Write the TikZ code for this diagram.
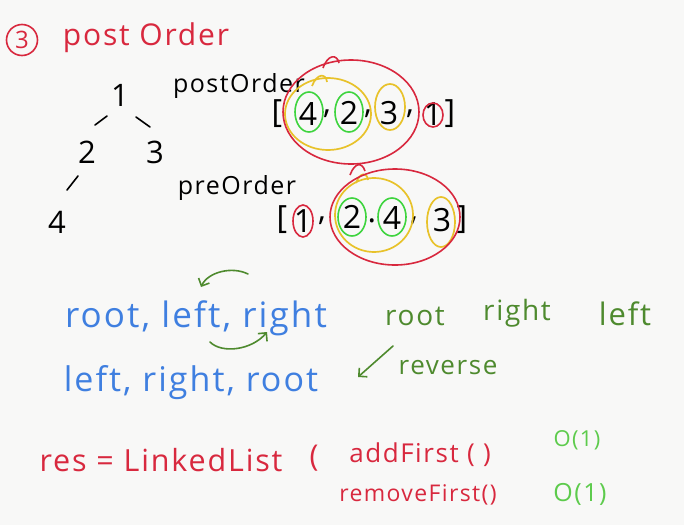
\documentclass[tikz,border=0pt]{standalone}
\usepackage{fontspec}
\setmainfont{Open Sans}[LetterSpace=6]
\usetikzlibrary{arrows.meta}
\definecolor{hred}{HTML}{D8283E}
\definecolor{hblue}{HTML}{3F7FE0}
\definecolor{hgreen}{HTML}{4E8A2E}
\definecolor{cgreen}{HTML}{3ED43E}
\definecolor{cyellow}{HTML}{E8C22A}
\definecolor{lgreen}{HTML}{5DCB4C}
\definecolor{bg}{HTML}{F8F8F7}
\begin{document}
\begin{tikzpicture}[x=1pt,y=-1pt,
  txt/.style={inner sep=0pt,anchor=center},
  fs/.style={font=\fontsize{#1}{#1}\selectfont},
  redtxt/.style={txt,text=hred},
  bluetxt/.style={txt,text=hblue,fs=35},
  greentxt/.style={txt,text=hgreen,fs=28},
  blacktxt/.style={txt,text=black},
  digit/.style={txt,text=black,fs=32},
  treedig/.style={txt,text=black,fs=31},
  edge/.style={draw=black,line width=1.6pt,line cap=round},
  gcirc/.style={draw=cgreen,line width=1.6pt},
  ycirc/.style={draw=cyellow,line width=1.7pt},
  rcirc/.style={draw=hred,line width=1.6pt},
  garrow/.style={draw=hgreen,line width=1.6pt,line cap=round,-{Straight Barb[length=6pt,width=12pt,line width=1.6pt]}}
]
\useasboundingbox[fill=bg] (0,0) rectangle (684,525);

% title
\node[txt,draw=hred,line width=1.6pt,circle,minimum size=31pt,text=hred,fs=24] (num) at (22,40) {3};
\node[redtxt,fs=30] (title) at (146,38) {post Order};

% tree
\node[treedig] (t1) at (120,95) {1};
\node[treedig] (t2) at (87,152) {2};
\node[treedig] (t3) at (155,152) {3};
\node[treedig] (t4) at (57,222) {4};
\coordinate (e1a) at (95,125); \coordinate (e1b) at (107,116);
\coordinate (e2a) at (136,117); \coordinate (e2b) at (150,127);
\coordinate (e3a) at (67,190); \coordinate (e3b) at (78,176);
\draw[edge] (e1a) -- (e1b);
\draw[edge] (e2a) -- (e2b);
\draw[edge] (e3a) -- (e3b);

% postOrder
\node[blacktxt,fs=25] (postlab) at (239,86) {postOrder};
\node[digit] (pb1) at (277,114) {[};
\node[digit] (p4) at (308,114) {4};
\node[digit] (pc1) at (327,114) {,};
\node[digit] (p2) at (349,113) {2};
\node[digit] (pc2) at (368,114) {,};
\node[digit] (p3) at (389,113) {3};
\node[digit] (pc3) at (410,114) {,};
\node[digit] (p1) at (433,114) {1};
\node[digit] (pb2) at (450,114) {]};
\draw[gcirc] (309,112) ellipse [x radius=14,y radius=20];
\draw[gcirc] (349,112) ellipse [x radius=14,y radius=20];
\draw[ycirc] (390,107) ellipse [x radius=15,y radius=23];
\draw[rcirc] (433,115) ellipse [x radius=10,y radius=12];
\draw[ycirc] (328,114) ellipse [x radius=43,y radius=36];
\draw[ycirc] (312,86) .. controls (317,73) and (326,73) .. (327,82);
\draw[rcirc] (351,112) ellipse [x radius=68,y radius=52];
\draw[rcirc] (323,68) .. controls (328,54) and (337,54) .. (339,63);

% preOrder
\node[blacktxt,fs=25] (prelab) at (237,188) {preOrder};
\node[digit] (qb1) at (282,220) {[};
\node[digit] (q1) at (303,221) {1};
\node[digit] (qc1) at (322,221) {,};
\node[digit] (q2) at (352,217) {2};
\node[digit] (qc2) at (372,221) {.};
\node[digit] (q4) at (392,218) {4};
\node[digit] (qc3) at (414,221) {,};
\node[digit] (q3) at (442,220) {3};
\node[digit] (qb2) at (462,220) {]};
\draw[rcirc] (303,221) ellipse [x radius=10,y radius=16];
\draw[gcirc] (352,217) ellipse [x radius=14,y radius=19];
\draw[gcirc] (392,217) ellipse [x radius=14,y radius=19];
\draw[ycirc] (441,222) ellipse [x radius=14,y radius=25];
\draw[ycirc] (374,215) ellipse [x radius=39,y radius=37];
\draw[ycirc] (356,183) .. controls (360,172) and (367,172) .. (368,180);
\draw[rcirc] (395,217) ellipse [x radius=65,y radius=48];
\draw[rcirc] (350,175) .. controls (355,162) and (362,162) .. (365,171);

% root left right
\node[bluetxt] (rlr) at (196,318) {root, left, right};
\coordinate (a1s) at (248,274); \coordinate (a1e) at (201,287);
\draw[garrow] (a1s) .. controls (232,266) and (208,272) .. (a1e);
\coordinate (a2s) at (210,342); \coordinate (a2e) at (267,332);
\draw[garrow] (a2s) .. controls (222,354) and (252,350) .. (a2e);
\node[greentxt] (groot) at (415,316) {root};
\node[greentxt] (gright) at (517,313) {right};
\node[greentxt,fs=31] (gleft) at (625,314) {left};
\coordinate (a3s) at (393,346); \coordinate (a3e) at (358,377);
\draw[garrow] (a3s) -- (a3e);
\node[greentxt,fs=26] (rev) at (448,368) {reverse};
\node[bluetxt,fs=34] (lrr) at (191,383) {left, right, root};

% res
\node[redtxt,fs=30.5] (res) at (161,460) {res = LinkedList};
\node[redtxt,fs=30] (paren) at (314,458) {(};
\node[redtxt,fs=26] (add) at (420,455) {addFirst ( )};
\node[txt,text=lgreen,fs=22] (o1) at (577,440) {O(1)};
\node[redtxt,fs=23] (rem) at (418,495) {removeFirst()};
\node[txt,text=lgreen,fs=25] (o2) at (580,494) {O(1)};
\end{tikzpicture}
\end{document}
